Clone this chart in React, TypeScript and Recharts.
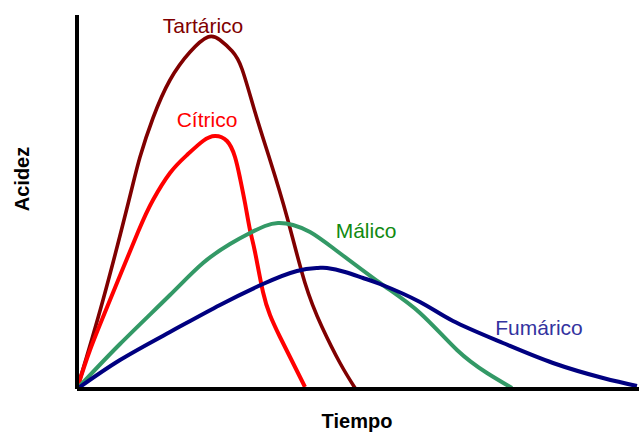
import React from 'react';
import { LineChart, Line, XAxis, YAxis, ReferenceDot } from 'recharts';

// Time (x) and acidity (y) readings for each acid
const tartaricoTiempo = [0, 26, 52, 63, 76, 93, 113, 131, 143, 155, 165, 178, 193, 210, 228, 245, 263, 278];
const tartaricoAcidez = [0, 89, 189, 232, 271, 309, 337, 352, 349, 338, 320, 277, 229, 172, 106, 62, 26, 1];

const citricoTiempo = [0, 13, 33, 61, 76, 93, 110, 126, 138, 150, 158, 163, 168, 173, 178, 186, 193, 203, 228];
const citricoAcidez = [0, 39, 89, 157, 189, 216, 234, 248, 253, 248, 232, 211, 186, 159, 137, 97, 74, 52, 2];

const malicoTiempo = [0, 43, 93, 126, 153, 173, 188, 201, 216, 233, 256, 303, 343, 380, 410, 435];
const malicoAcidez = [0, 45, 94, 126, 145, 156, 163, 166, 164, 157, 141, 106, 76, 39, 16, 1];

const fumaricoTiempo = [0, 43, 93, 143, 186, 220, 241, 250, 268, 286, 303, 343, 376, 426, 476, 526, 560];
const fumaricoAcidez = [0, 29, 57, 84, 105, 118, 121, 121, 117, 111, 105, 87, 68, 46, 26, 11, 3];

const seriesNames = ['Tartárico', 'Cítrico', 'Málico', 'Fumárico'];
const axisTitles = ['Tiempo', 'Acidez'];

const zip = (xs: number[], ys: number[]) => xs.map((x, i) => ({ x, y: ys[i] }));

const series = [
  { name: seriesNames[0], data: zip(tartaricoTiempo, tartaricoAcidez), stroke: '#800000', width: 3.6, labelColor: '#800000', label: { x: 126, y: 363.5 } },
  { name: seriesNames[1], data: zip(citricoTiempo, citricoAcidez), stroke: '#ff0000', width: 4, labelColor: '#ff0000', label: { x: 130, y: 269 } },
  { name: seriesNames[2], data: zip(malicoTiempo, malicoAcidez), stroke: '#339966', width: 4, labelColor: '#118a11', label: { x: 289, y: 158 } },
  { name: seriesNames[3], data: zip(fumaricoTiempo, fumaricoAcidez), stroke: '#000080', width: 4, labelColor: '#3333a0', label: { x: 462, y: 61.5 } },
];

const FONT = '"Liberation Sans", Arial, Helvetica, sans-serif';

export default function App() {
  return (
    <div style={{ position: 'absolute', left: 0, top: 0, width: 639, height: 435, background: '#fff' }}>
      <LineChart width={639} height={435} margin={{ top: 15, right: 0, bottom: 16, left: 17 }}>
        <XAxis
          type="number"
          dataKey="x"
          domain={[0, 562]}
          allowDataOverflow
          height={30}
          tick={false}
          tickLine={false}
          axisLine={{ stroke: '#000', strokeWidth: 4 }}
        />
        <YAxis
          type="number"
          dataKey="y"
          domain={[0, 374]}
          allowDataOverflow
          width={60}
          tick={false}
          tickLine={false}
          axisLine={{ stroke: '#000', strokeWidth: 4 }}
        />
        {series.map((s) => (
          <Line
            key={s.name}
            data={s.data}
            dataKey="y"
            type="natural"
            stroke={s.stroke}
            strokeWidth={s.width}
            dot={false}
            activeDot={false}
            isAnimationActive={false}
          />
        ))}
        {series.map((s) => (
          <ReferenceDot
            key={'l' + s.name}
            x={s.label.x}
            y={s.label.y}
            r={0}
            fill="none"
            stroke="none"
            label={{ value: s.name, position: 'center', fill: s.labelColor, fontSize: 21, fontFamily: FONT }}
          />
        ))}
      </LineChart>
      <svg width={639} height={435} style={{ position: 'absolute', left: 0, top: 0, pointerEvents: 'none' }}>
        <text x={357} y={428} textAnchor="middle" fontFamily={FONT} fontWeight="bold" fontSize={20} fill="#000">
          {axisTitles[0]}
        </text>
        <text
          x={29}
          y={179}
          textAnchor="middle"
          fontFamily={FONT}
          fontWeight="bold"
          fontSize={20}
          fill="#000"
          transform="rotate(-90 29 179)"
        >
          {axisTitles[1]}
        </text>
      </svg>
    </div>
  );
}
